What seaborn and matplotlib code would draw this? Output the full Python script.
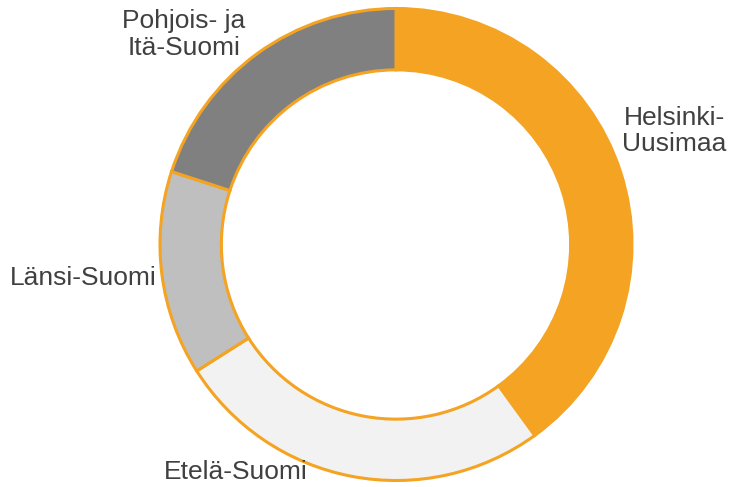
import matplotlib
matplotlib.use("Agg")
import matplotlib.pyplot as plt
import seaborn as sns

# Alueet ja osuudet (%)
alueet = ["Helsinki-\nUusimaa", "Etelä-Suomi", "Länsi-Suomi", "Pohjois- ja\nItä-Suomi"]
osuudet = [40, 26, 14, 20]
varit = ["#F4A322", "#F2F2F2", "#BFBFBF", "#808080"]
reuna = "#F4A322"

# tekstien paikat (datayksiköissä, ulkosäde = 1)
tekstipaikat = [(1.18, 0.48), (-0.68, -0.965), (-1.325, -0.14), (-0.90, 0.89)]

sns.set_theme(style="white")
plt.rcParams["font.family"] = ["Liberation Sans", "DejaVu Sans"]

fig = plt.figure(figsize=(7.33, 4.87), dpi=100)
ax = fig.add_axes([0, 0, 1, 1])

wedges, _ = ax.pie(
    osuudet,
    colors=varit,
    startangle=90,
    counterclock=False,
    radius=1.0,
    wedgeprops=dict(width=0.26, edgecolor=reuna, linewidth=2.2),
)

for nimi, (x, y) in zip(alueet, tekstipaikat):
    ax.text(x, y, nimi, ha="center", va="center", multialignment="center",
            fontsize=19, color="#404040", linespacing=1.12)

ax.set_xlim(-396 / 236, (733 - 396) / 236)
ax.set_ylim(-(487 - 244.5) / 236, 244.5 / 236)
ax.set_aspect("equal")
ax.axis("off")

plt.savefig("out.png", dpi=100)
plt.close()
